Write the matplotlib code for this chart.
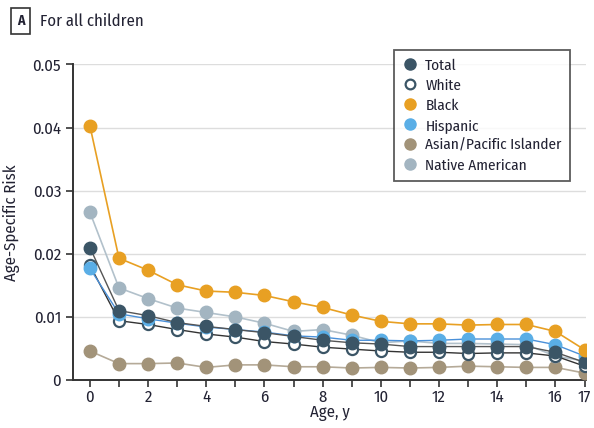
import matplotlib
matplotlib.use('Agg')
import matplotlib.pyplot as plt
from matplotlib.lines import Line2D

plt.rcParams['font.family'] = ['Fira Sans Condensed', 'DejaVu Sans']

ages = list(range(18))

total = [0.0210, 0.0110, 0.0102, 0.0091, 0.0085, 0.0080, 0.0075, 0.0069, 0.0063,
         0.0059, 0.0057, 0.0053, 0.0053, 0.0053, 0.0053, 0.0053, 0.0044, 0.0028]
white = [0.0182, 0.0094, 0.0088, 0.0080, 0.0073, 0.0068, 0.0061, 0.0057, 0.0052,
         0.0049, 0.0046, 0.0044, 0.0044, 0.0042, 0.0043, 0.0043, 0.0038, 0.0022]
black = [0.0403, 0.0193, 0.0174, 0.0151, 0.0141, 0.0139, 0.0134, 0.0124, 0.0115,
         0.0103, 0.0093, 0.0089, 0.0089, 0.0087, 0.0088, 0.0088, 0.0077, 0.0048]
hispanic = [0.0177, 0.0105, 0.0097, 0.0090, 0.0084, 0.0080, 0.0076, 0.0070, 0.0068,
            0.0063, 0.0063, 0.0062, 0.0063, 0.0065, 0.0065, 0.0065, 0.0056, 0.0038]
asian = [0.0046, 0.0026, 0.0026, 0.0027, 0.0020, 0.0024, 0.0024, 0.0021, 0.0021,
         0.0019, 0.0020, 0.0019, 0.0020, 0.0022, 0.0021, 0.0020, 0.0020, 0.0011]
native = [0.0266, 0.0146, 0.0129, 0.0114, 0.0107, 0.0100, 0.0090, 0.0077, 0.0080,
          0.0071, 0.0059, 0.0062, 0.0058, 0.0058, 0.0057, 0.0056, 0.0038, 0.0030]

xtick_labels = ['0', '2', '4', '6', '8', '10', '12', '14', '16', '17']
ytick_vals = [0, 0.01, 0.02, 0.03, 0.04, 0.05]
ytick_labels = ['0', '0.01', '0.02', '0.03', '0.04', '0.05']

c_total = '#3b5566'
c_black = '#e8a023'
c_hisp = '#5aaee6'
c_asian = '#a29379'
c_native = '#a3b5c1'
txt = '#222233'

fig = plt.figure(figsize=(5.94, 4.28), dpi=100)
ax = fig.add_axes([0.1229, 0.1121, 0.8636, 0.7372])

ms = 9
ax.plot(ages, asian, '-o', color='#b5aa98', mfc=c_asian, mec=c_asian, ms=ms, lw=1.2, zorder=3)
ax.plot(ages, native, '-o', color='#b2c1cb', mfc=c_native, mec=c_native, ms=ms, lw=1.2, zorder=3)
ax.plot(ages, white, '-o', color='#333333', mfc='white', mec=c_total, mew=1.6, ms=ms - 1, lw=1.0, zorder=4)
ax.plot(ages, hispanic, '-o', color='#4a90d9', mfc=c_hisp, mec=c_hisp, ms=ms, lw=1.0, zorder=5)
ax.plot(ages, total, '-o', color='#555555', mfc=c_total, mec=c_total, ms=ms, lw=1.0, zorder=6)
ax.plot(ages, black, '-o', color=c_black, mfc=c_black, mec=c_black, ms=ms, lw=1.2, zorder=7)

ax.set_xlim(-0.58, 17.05)
ax.set_ylim(0, 0.05)
ax.set_xticks(ages)
ax.set_xticklabels([str(a) if str(a) in xtick_labels else '' for a in ages])
ax.set_yticks(ytick_vals)
ax.set_yticklabels(ytick_labels)
ax.tick_params(axis='both', labelsize=12, colors='#333333', labelcolor=txt, length=5, width=1.2)
ax.tick_params(axis='x', pad=1.5)
ax.grid(axis='y', color='#dddddd', lw=1)
ax.set_axisbelow(True)
for s in ['top', 'right']:
    ax.spines[s].set_visible(False)
for s in ['left', 'bottom']:
    ax.spines[s].set_color('#333333')
    ax.spines[s].set_linewidth(1.4)

ax.set_xlabel('Age, y', fontsize=12, color=txt, labelpad=0)
ax.set_ylabel('Age-Specific Risk', fontsize=12, color=txt, labelpad=9)

handles = [
    Line2D([], [], ls='', marker='o', mfc=c_total, mec=c_total, ms=8),
    Line2D([], [], ls='', marker='o', mfc='white', mec=c_total, mew=1.6, ms=7),
    Line2D([], [], ls='', marker='o', mfc=c_black, mec=c_black, ms=8),
    Line2D([], [], ls='', marker='o', mfc=c_hisp, mec=c_hisp, ms=8),
    Line2D([], [], ls='', marker='o', mfc=c_asian, mec=c_asian, ms=8),
    Line2D([], [], ls='', marker='o', mfc=c_native, mec=c_native, ms=8),
]
labels = ['Total', 'White', 'Black', 'Hispanic', 'Asian/Pacific Islander', 'Native American']
leg = ax.legend(handles, labels, loc='upper right', bbox_to_anchor=(0.969, 1.046),
                frameon=True, fancybox=False, fontsize=11, handletextpad=0.5,
                labelspacing=0.38, borderpad=0.55, handlelength=1.0, borderaxespad=0)
leg.get_frame().set_edgecolor('#333333')
leg.get_frame().set_linewidth(1.3)
for t in leg.get_texts():
    t.set_color(txt)

fig.text(0.0286, 0.951, 'A', fontsize=10, fontweight='bold', color=txt, va='center', ha='left',
         bbox=dict(boxstyle='square,pad=0.4', fc='white', ec='#333333', lw=1.2))
fig.text(0.067, 0.951, 'For all children', fontsize=12, color=txt, va='center', ha='left')

fig.savefig('out.png', dpi=100)
